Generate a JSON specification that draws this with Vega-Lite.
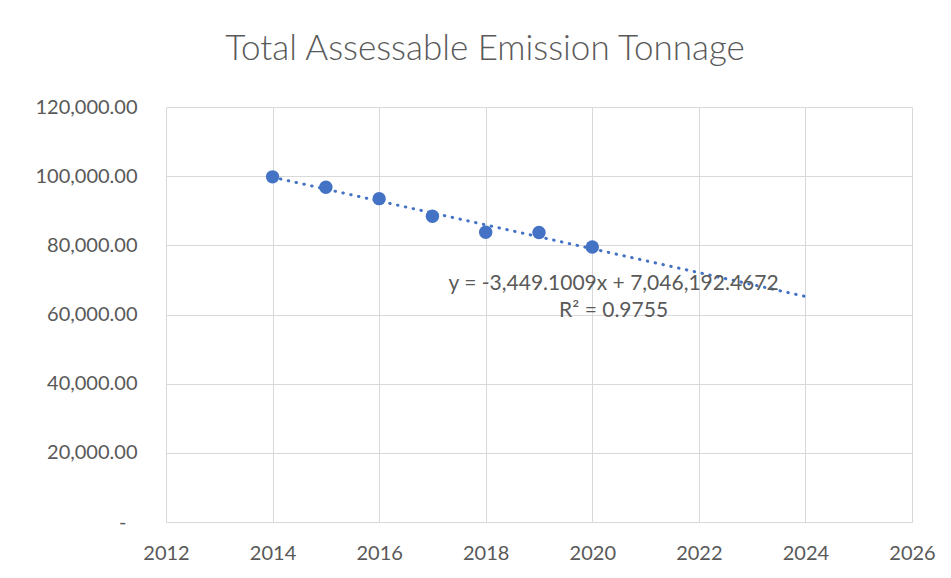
{
  "$schema": "https://vega.github.io/schema/vega-lite/v6.json",
  "width": 746,
  "height": 415,
  "autosize": {"type": "none"},
  "padding": {"left": 166, "top": 107, "right": 39, "bottom": 56},
  "background": "white",
  "title": {
    "text": "Total Assessable Emission Tonnage",
    "font": "Lato",
    "fontSize": 35,
    "fontWeight": 300,
    "color": "#595959",
    "anchor": "middle",
    "dx": -54,
    "baseline": "alphabetic",
    "offset": 2
  },
  "config": {
    "view": {"stroke": null},
    "axis": {
      "labelFont": "Lato",
      "labelFontSize": 20,
      "labelColor": "#595959",
      "gridColor": "#d9d9d9",
      "gridWidth": 1,
      "domainColor": "#d9d9d9",
      "ticks": false,
      "title": null
    }
  },
  "datasets": {
    "points": [
      {"year": 2014, "tonnage": 99800},
      {"year": 2015, "tonnage": 96800},
      {"year": 2016, "tonnage": 93500},
      {"year": 2017, "tonnage": 88400},
      {"year": 2018, "tonnage": 83800},
      {"year": 2019, "tonnage": 83700},
      {"year": 2020, "tonnage": 79500}
    ],
    "trend": [
      {"year": 2014, "tonnage": 99703},
      {"year": 2024, "tonnage": 65212}
    ]
  },
  "layer": [
    {
      "data": {"name": "trend"},
      "mark": {"type": "line", "color": "#4472C4", "strokeWidth": 3, "strokeCap": "round", "strokeDash": [0.5, 7.5]},
      "encoding": {
        "x": {"field": "year", "type": "quantitative", "scale": {"domain": [2012, 2026], "nice": false, "zero": false},
          "axis": {"values": [2012, 2014, 2016, 2018, 2020, 2022, 2024, 2026], "format": "d", "labelPadding": 21, "labelFlush": false, "domain": true, "grid": true}},
        "y": {"field": "tonnage", "type": "quantitative", "scale": {"domain": [0, 120000], "nice": false},
          "axis": {"values": [0, 20000, 40000, 60000, 80000, 100000, 120000],
            "labelPadding": {"condition": {"test": "datum.value == 0", "value": 40}, "value": 29},
            "domain": false,
            "labelExpr": "datum.value == 0 ? '-' : format(datum.value, ',.2f')"}}
      }
    },
    {
      "data": {"name": "points"},
      "mark": {"type": "circle", "color": "#4472C4", "opacity": 1, "size": 180},
      "encoding": {
        "x": {"field": "year", "type": "quantitative"},
        "y": {"field": "tonnage", "type": "quantitative"}
      }
    },
    {
      "data": {"values": [{"label": "y = -3,449.1009x + 7,046,192.4672"}]},
      "mark": {"type": "text", "font": "Lato", "fontSize": 21, "color": "#595959", "align": "center", "baseline": "middle"},
      "encoding": {
        "x": {"datum": 2020.4},
        "y": {"datum": 68700},
        "text": {"field": "label"}
      }
    },
    {
      "data": {"values": [{"label": "R² = 0.9755"}]},
      "mark": {"type": "text", "font": "Lato", "fontSize": 21, "color": "#595959", "align": "center", "baseline": "middle"},
      "encoding": {
        "x": {"datum": 2020.4},
        "y": {"datum": 60900},
        "text": {"field": "label"}
      }
    }
  ]
}
